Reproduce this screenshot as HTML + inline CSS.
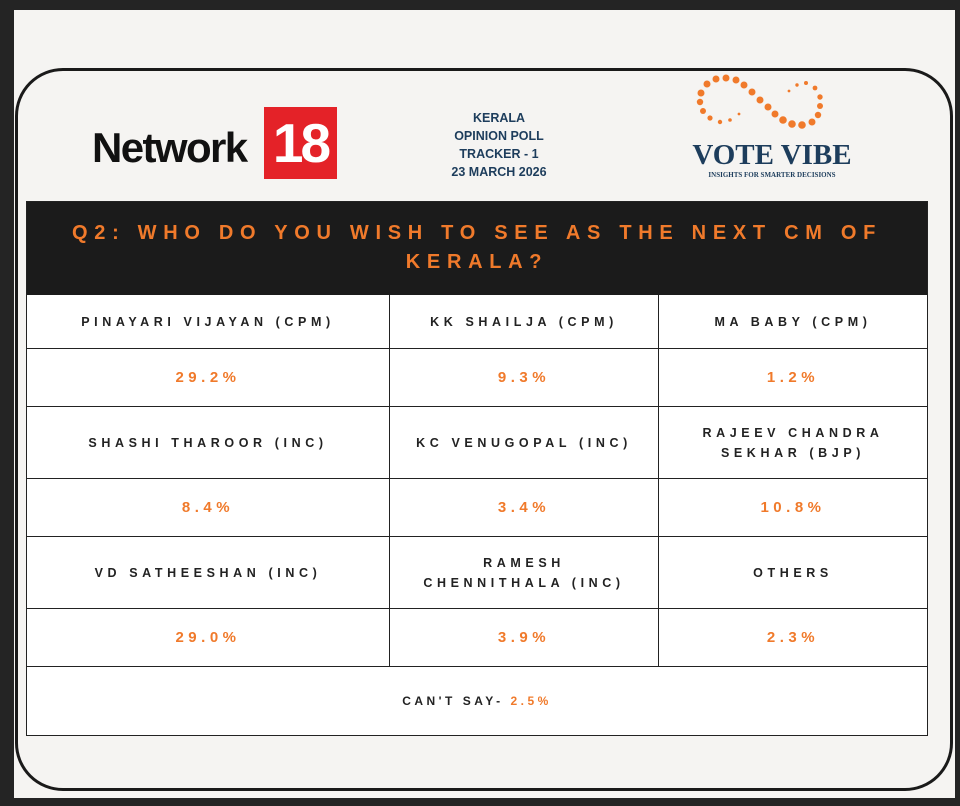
<!DOCTYPE html>
<html><head><meta charset="utf-8"><style>
*{margin:0;padding:0;box-sizing:border-box}
body{width:960px;height:806px;background:#242424;position:relative;overflow:hidden;font-family:"Liberation Sans",sans-serif}
#page{position:absolute;left:14px;top:10px;width:941px;height:788px;background:#f5f4f2}
#card{position:absolute;left:15px;top:68px;width:938px;height:723px;border:3.5px solid #1a1a1a;border-radius:48px;background:#f5f4f2}
.abs{position:absolute}
#tbl{position:absolute;left:26px;top:201px;width:902px;height:535px;background:#fff;border:1.5px solid #222}
#hdr{position:absolute;left:0;top:0;width:100%;height:93px;background:#1b1b1b;color:#f07a2b;font-weight:bold;font-size:20px;letter-spacing:6.7px;text-align:center;line-height:29px;padding:17px 25px 0}
.cell{position:absolute;display:flex;align-items:center;justify-content:center;text-align:center;border-right:1px solid #222;border-bottom:1.5px solid #222}
.nm{font-weight:bold;font-size:12.5px;letter-spacing:4.6px;color:#222;line-height:20px}
.vl{font-weight:bold;font-size:15px;letter-spacing:4.5px;color:#f07a2b}
</style></head><body>
<div id="page"></div>
<div id="card"></div>
<div class="abs" style="left:92px;top:124px;font-size:42px;font-weight:bold;letter-spacing:-1.6px;color:#111">Network</div>
<div class="abs" style="left:264px;top:107px;width:73px;height:72px;background:#e42228;color:#fff;font-size:55px;font-weight:bold;text-align:center;line-height:72px;letter-spacing:-3px">18</div>
<div class="abs" style="left:430px;top:109px;width:138px;text-align:center;color:#1d3d5c;font-weight:bold;font-size:12.5px;line-height:18px">KERALA<br>OPINION POLL<br>TRACKER - 1<br>23 MARCH 2026</div>
<svg class="abs" style="left:680px;top:70px" width="180" height="70">
<g fill="#f07a2b">
<circle cx="21" cy="23" r="3.5"/><circle cx="27" cy="14" r="3.5"/><circle cx="36" cy="9" r="3.5"/><circle cx="46" cy="8" r="3.5"/><circle cx="56" cy="10" r="3.5"/><circle cx="64" cy="15" r="3.5"/><circle cx="72" cy="22" r="3.5"/><circle cx="80" cy="30" r="3.5"/><circle cx="88" cy="37" r="3.5"/><circle cx="95" cy="44" r="3.5"/><circle cx="103" cy="50" r="3.8"/><circle cx="112" cy="54" r="3.8"/><circle cx="122" cy="55" r="3.8"/><circle cx="132" cy="52" r="3.5"/><circle cx="138" cy="45" r="3.2"/><circle cx="140" cy="36" r="3"/><circle cx="140" cy="27" r="2.7"/><circle cx="135" cy="18" r="2.4"/><circle cx="126" cy="13" r="2"/><circle cx="117" cy="15" r="1.7"/><circle cx="109" cy="21" r="1.4"/><circle cx="20" cy="32" r="3.2"/><circle cx="23" cy="41" r="3"/><circle cx="30" cy="48" r="2.6"/><circle cx="40" cy="52" r="2.2"/><circle cx="50" cy="50" r="1.8"/><circle cx="59" cy="44" r="1.4"/>
</g></svg>
<div class="abs" style="left:690px;top:139px;width:164px;text-align:center;font-family:'Liberation Serif',serif;font-weight:bold;font-size:29px;color:#1d3d5c;letter-spacing:0px">VOTE VIBE</div>
<div class="abs" style="left:690px;top:171px;width:164px;text-align:center;font-family:'Liberation Serif',serif;font-weight:bold;font-size:7px;color:#1d3d5c">INSIGHTS FOR SMARTER DECISIONS</div>
<div id="tbl">
<div id="hdr">Q2: WHO DO YOU WISH TO SEE AS THE NEXT CM OF KERALA?</div>
<div class="cell nm" style="left:0;top:93px;width:363px;height:54px">PINAYARI VIJAYAN (CPM)</div>
<div class="cell nm" style="left:363px;top:93px;width:269px;height:54px">KK SHAILJA (CPM)</div>
<div class="cell nm" style="left:632px;top:93px;width:268px;height:54px;border-right:none">MA BABY (CPM)</div>
<div class="cell vl" style="left:0;top:147px;width:363px;height:58px">29.2%</div>
<div class="cell vl" style="left:363px;top:147px;width:269px;height:58px">9.3%</div>
<div class="cell vl" style="left:632px;top:147px;width:268px;height:58px;border-right:none">1.2%</div>
<div class="cell nm" style="left:0;top:205px;width:363px;height:72px">SHASHI THAROOR (INC)</div>
<div class="cell nm" style="left:363px;top:205px;width:269px;height:72px">KC VENUGOPAL (INC)</div>
<div class="cell nm" style="left:632px;top:205px;width:268px;height:72px;border-right:none;padding:0 30px">RAJEEV CHANDRA SEKHAR (BJP)</div>
<div class="cell vl" style="left:0;top:277px;width:363px;height:58px">8.4%</div>
<div class="cell vl" style="left:363px;top:277px;width:269px;height:58px">3.4%</div>
<div class="cell vl" style="left:632px;top:277px;width:268px;height:58px;border-right:none">10.8%</div>
<div class="cell nm" style="left:0;top:335px;width:363px;height:72px">VD SATHEESHAN (INC)</div>
<div class="cell nm" style="left:363px;top:335px;width:269px;height:72px;padding:0 20px">RAMESH CHENNITHALA (INC)</div>
<div class="cell nm" style="left:632px;top:335px;width:268px;height:72px;border-right:none">OTHERS</div>
<div class="cell vl" style="left:0;top:407px;width:363px;height:58px">29.0%</div>
<div class="cell vl" style="left:363px;top:407px;width:269px;height:58px">3.9%</div>
<div class="cell vl" style="left:632px;top:407px;width:268px;height:58px;border-right:none">2.3%</div>
<div class="cell nm" style="left:0;top:465px;width:900px;height:68px;border:none;font-size:12px;letter-spacing:3.5px">CAN'T SAY-&nbsp;<span style="color:#f07a2b">2.5%</span></div>
</div>
</body></html>
